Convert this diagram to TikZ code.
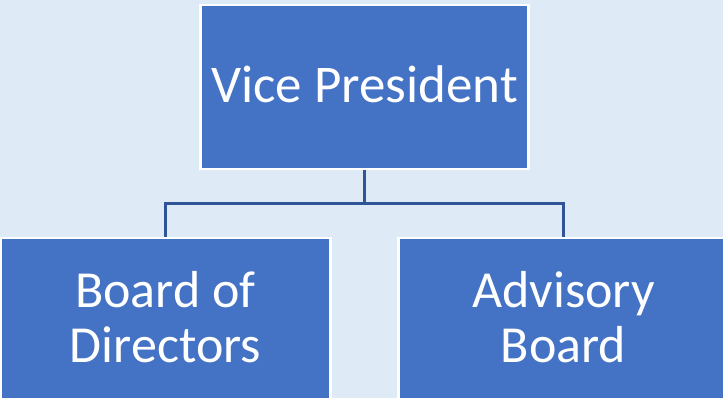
\documentclass[tikz,border=0pt]{standalone}
\usepackage{fontspec}
\setmainfont{Carlito}
\definecolor{bgblue}{HTML}{DEEBF7}
\definecolor{boxblue}{HTML}{4472C4}
\definecolor{linkblue}{HTML}{2F5597}
\tikzset{
  orgbox/.style={draw=white, line width=2.5pt, fill=boxblue,
    inner sep=0pt, minimum height=164pt},
  boxtext/.style={text=white, align=center, inner sep=0pt},
  link/.style={draw=linkblue, line width=2.7pt}
}
\begin{document}
\begin{tikzpicture}[x=1pt,y=-1pt]
\useasboundingbox (0,0) rectangle (723,398);
\clip (0,0) rectangle (723,398);
\fill[bgblue] (0,0) rectangle (723,398);
\node[orgbox, minimum width=328pt,
  label={[boxtext, font=\fontsize{53}{60}\selectfont, yshift=3pt]center:Vice President}] (vp) at (364.5,87) {};
\node[orgbox, minimum width=330pt,
  label={[boxtext, font=\fontsize{52}{54.3}\selectfont, yshift=3pt]center:Board of\\Directors}] (bod) at (165.5,320) {};
\node[orgbox, minimum width=330pt,
  label={[boxtext, font=\fontsize{52}{54.3}\selectfont, yshift=3pt]center:Advisory\\Board}] (adv) at (563.5,320) {};
\coordinate (bus) at (364.5,203.5);
\draw[link] (vp.south) -- (bus) -| (bod.north);
\draw[link] (bus) -| (adv.north);
\end{tikzpicture}
\end{document}
